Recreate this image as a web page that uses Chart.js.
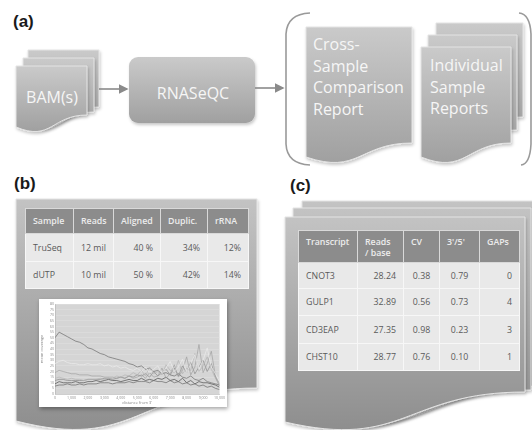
<!DOCTYPE html>
<html>
<head>
<meta charset="utf-8">
<script src="https://cdn.jsdelivr.net/npm/chart.js@4.4.0/dist/chart.umd.min.js"></script>
<style>
  html,body{margin:0;padding:0;background:#fff;}
  body{width:532px;height:430px;position:relative;overflow:hidden;font-family:"Open Sans",sans-serif;}
  #bg{position:absolute;left:0;top:0;}
  .tbl{position:absolute;border-collapse:collapse;table-layout:fixed;font-size:8.8px;color:#5a5a5a;}
  .tbl th{background:#8c8c8c;color:#ececec;font-weight:600;text-align:left;padding:0 0 0 7px;border:1px solid #d9d9d9;}
  .tbl td{background:#e9e9e9;padding:0 7px;border:1px solid #f7f7f7;white-space:nowrap;}
  .tbl td.r{text-align:right;}
  .tbl td.c{text-align:center;}
  #tb{left:25px;top:208px;width:223px;}
  #tc{left:298px;top:230px;width:221px;}
  #tc th{vertical-align:top;padding-top:6px;line-height:11px;}
  #inset{position:absolute;left:39px;top:299px;width:188px;height:108px;background:#fff;box-shadow:1px 2px 4px rgba(0,0,0,.35);}
</style>
</head>
<body>
<svg id="bg" width="532" height="430"></svg>
<table class="tbl" id="tb"></table>
<table class="tbl" id="tc"></table>
<div id="inset"><canvas id="cov"></canvas></div>
<script>
// ---- panel (b) summary table ----
const sampleCols = ['Sample','Reads','Aligned','Duplic.','rRNA'];
const sampleNames = ['TruSeq','dUTP'];
const sampleReads = ['12 mil','10 mil'];
const sampleAligned = ['40 %','50 %'];
const sampleDuplic = ['34%','42%'];
const sampleRRNA = ['12%','14%'];

// ---- panel (c) transcript table ----
const transCols = ['Transcript','Reads<br>/ base','CV','3\'/5\'','GAPs'];
const transcripts = ['CNOT3','GULP1','CD3EAP','CHST10'];
const readsPerBase = ['28.24','32.89','27.35','28.77'];
const cvValues = ['0.38','0.56','0.98','0.76'];
const ratio35 = ['0.79','0.73','0.23','0.10'];
const gaps = ['0','4','3','1'];

// ---- coverage inset: distance from 3' (bp) and mean coverage per sample ----
const distance = [0,250,500,750,1000,1250,1500,1750,2000,2250,2500,2750,3000,3250,3500,3750,4000,4250,4500,4750,
  5000,5250,5500,5750,6000,6250,6500,6750,7000,7250,7500,7750,8000,8250,8500,8750,9000,9250,9500,9750,10000];
const covA = [50,55,53,51,49,47,46,44,41,40,38,36,35,33,32,31,30,29,27,26,24,25,22,23,20,21,18,19,17,16,18,15,14,16,13,12,14,11,10,9,8];
const covB = [27,29,30,28,27,27,26,26,27,26,26,27,25,26,24,25,23,24,22,21,23,20,24,19,22,25,18,23,29,20,24,31,19,27,35,22,30,41,24,18,11];
const covC = [19,21,20,19,18,18,17,17,17,16,16,16,15,15,15,14,15,14,16,14,15,17,14,19,15,16,23,14,18,26,15,21,33,17,24,44,19,27,38,16,9];
const covD = [9,11,10,10,10,11,10,10,11,11,12,11,12,13,12,12,11,12,13,12,12,14,12,13,12,14,13,15,12,13,11,14,10,12,9,11,10,10,9,8,6];
const covE = [7,8,8,9,8,8,9,8,9,9,9,10,10,10,9,10,10,10,11,10,11,11,11,10,12,11,11,10,12,10,11,9,10,8,9,7,8,6,7,5,4];
const covF = [14,15,14,13,14,13,13,12,13,13,13,14,13,14,14,16,15,17,16,19,17,21,16,24,18,20,17,26,21,19,30,18,23,21,36,20,25,33,22,14,8];
const covG = [12,13,13,12,12,12,12,12,13,13,13,13,14,14,13,14,15,14,16,15,17,16,18,15,20,16,19,22,17,23,16,25,19,28,18,24,30,20,27,15,7];
const xTicks = [0,1000,2000,3000,4000,5000,6000,7000,8000,9000,10000];

// ---- diagram shapes ----
const svg = document.getElementById('bg');
function docPath(x0,y0,x1,yR,yL,c2){
  const m=(x0+x1)/2;
  return `M${x0} ${y0} H${x1} V${yR} C${m} ${yR} ${m} ${c2} ${x0} ${yL} Z`;
}
let s = `<defs>
  <linearGradient id="gs" x1="0" y1="0" x2="0" y2="1"><stop offset="0" stop-color="#cacaca"/><stop offset="1" stop-color="#a0a0a0"/></linearGradient>
  <linearGradient id="gl" x1="0" y1="0" x2="0" y2="1"><stop offset="0" stop-color="#c3c3c3"/><stop offset="1" stop-color="#8e8e8e"/></linearGradient>
  <filter id="sh" x="-10%" y="-10%" width="130%" height="130%"><feDropShadow dx="1" dy="2" stdDeviation="1.5" flood-color="#000" flood-opacity="0.22"/></filter>
  <marker id="ah" markerWidth="6" markerHeight="6" refX="5" refY="3" orient="auto"><path d="M0 0 L6 3 L0 6 Z" fill="#8a8a8a"/></marker>
</defs>`;
const sheet=(d,g)=>`<path d="${d}" fill="url(#${g})" stroke="#e4e4e4" stroke-width="1" filter="url(#sh)"/>`;
// BAM stack
s += sheet(docPath(28,50,99,107,119,135),'gs');
s += sheet(docPath(23,58,94,112,123,140),'gs');
s += sheet(docPath(16,66,87,115,127,142),'gs');
// RNASeQC
s += `<rect x="129" y="57" width="126" height="66" rx="9" fill="url(#gs)" filter="url(#sh)"/>`;
// arrows
s += `<line x1="99" y1="89" x2="127" y2="89" stroke="#8a8a8a" stroke-width="1.6" marker-end="url(#ah)"/>`;
s += `<line x1="255" y1="88" x2="283" y2="88" stroke="#8a8a8a" stroke-width="1.6" marker-end="url(#ah)"/>`;
// brackets
s += `<path d="M310 13 Q287 14 286 34 V144 Q287 164 310 165" fill="none" stroke="#9a9a9a" stroke-width="1.6"/>`;
s += `<path d="M519 13 Q530 14 531 34 V144 Q530 164 521 165" fill="none" stroke="#9a9a9a" stroke-width="1.6"/>`;
// reports
s += sheet(docPath(306,27,412,143,157,175),'gs');
s += sheet(docPath(436,23,523,117,127,145),'gs');
s += sheet(docPath(428,35,517,130,140,158),'gs');
s += sheet(docPath(421,47,511,143,157,175),'gs');
// panel (b) and (c) pages
s += sheet(docPath(16,199,257,388,421,452),'gl');
s += sheet(docPath(302,201,545,386,416,446),'gl');
s += sheet(docPath(293,208,531,390,420,448),'gl');
s += sheet(docPath(285,217,525,392,422,450),'gl');
// text
const t=(x,y,str,a)=>`<text x="${x}" y="${y}" ${a||''}>${str}</text>`;
s += `<g font-family="Open Sans" font-size="16" fill="#f6f6f6">`;
s += t(52,103,'BAM(s)','text-anchor="middle"');
s += t(193,99,'RNASeQC','text-anchor="middle"');
['Cross-','Sample','Comparison','Report'].forEach((w,i)=>{ s += t(313,50+i*21.5,w); });
['Individual','Sample','Reports'].forEach((w,i)=>{ s += t(430,71+i*21.5,w); });
s += `</g>`;
s += `<g font-family="Liberation Sans" font-size="17" font-weight="bold" fill="#1a1a1a">`;
s += t(13,27,'(a)') + t(14,189,'(b)') + t(290,191,'(c)');
s += `</g>`;
svg.innerHTML = s;

// ---- tables ----
function buildTable(id, cols, widths, heights, rows, aligns){
  let h = '<colgroup>' + widths.map(w=>`<col style="width:${w}px">`).join('') + '</colgroup>';
  h += `<tr style="height:${heights[0]}px">` + cols.map(c=>`<th>${c}</th>`).join('') + '</tr>';
  rows.forEach((r,i)=>{
    h += `<tr style="height:${heights[i+1]}px">` + r.map((v,j)=>`<td class="${aligns[j]}">${v}</td>`).join('') + '</tr>';
  });
  document.getElementById(id).innerHTML = h;
}
buildTable('tb', sampleCols, [48,40,47,47,41], [25,28,27],
  sampleNames.map((n,i)=>[n,sampleReads[i],sampleAligned[i],sampleDuplic[i],sampleRRNA[i]]),
  ['','','r','r','r']);
buildTable('tc', transCols, [59,46,36,40,40], [32,26,27,28,27],
  transcripts.map((n,i)=>[n,readsPerBase[i],cvValues[i],ratio35[i],gaps[i]]),
  ['','r','c','c','r']);

// ---- coverage chart ----
const plotBg = {id:'plotBg', beforeDraw(c){
  const a=c.chartArea, ctx=c.ctx; ctx.save(); ctx.fillStyle='#d5d5d5';
  ctx.fillRect(a.left,a.top,a.width,a.height); ctx.restore();
}};
const series = [
  {data:covB, color:'#ececec'},
  {data:covF, color:'#b5b5b5'},
  {data:covC, color:'#a0a0a0'},
  {data:covG, color:'#8a8a8a'},
  {data:covA, color:'#6c6c6c'},
  {data:covE, color:'#676767'},
  {data:covD, color:'#4c4c4c'}
];
const tickFont = {family:'Open Sans', size:3.5};
new Chart(document.getElementById('cov'), {
  type:'line',
  data:{datasets: series.map(sr=>({
    data: distance.map((x,i)=>({x, y: sr.data[i]})),
    borderColor: sr.color, borderWidth:0.7, pointRadius:0, tension:0, fill:false
  }))},
  options:{
    responsive:true, maintainAspectRatio:false, animation:false,
    layout:{padding:{top:5,right:6,left:0,bottom:0}},
    plugins:{legend:{display:false}, tooltip:{enabled:false}},
    scales:{
      x:{type:'linear', min:0, max:10000,
        afterBuildTicks: a=>{ a.ticks = xTicks.map(v=>({value:v})); },
        afterFit: a=>{ a.height = 13; },
        grid:{display:false, drawTicks:false, tickLength:0}, border:{color:'#aaa', width:0.5},
        ticks:{font:tickFont, color:'#888', padding:2, maxRotation:0, autoSkip:false,
          callback:v=>v.toLocaleString('en-US')},
        title:{display:true, text:"distance from 3'", font:{family:'Open Sans',size:4}, color:'#888', padding:{top:0,bottom:2}}},
      y:{min:0, max:80,
        afterFit: a=>{ a.width = 16; },
        grid:{color:'#e0e0e0', lineWidth:0.5, drawTicks:false}, border:{color:'#aaa', width:0.5},
        ticks:{stepSize:5, font:tickFont, color:'#888', padding:1, autoSkip:false},
        title:{display:true, text:'mean coverage', font:{family:'Open Sans',size:4}, color:'#888', padding:0}}
    }
  },
  plugins:[plotBg]
});
</script>
</body>
</html>
